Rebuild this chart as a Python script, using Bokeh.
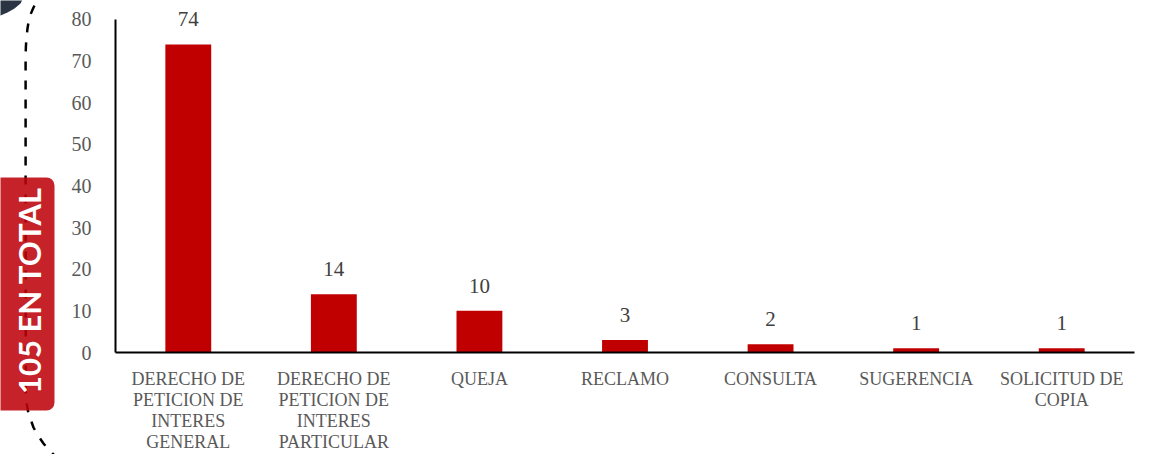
from bokeh.plotting import figure
from bokeh.layouts import row
from bokeh.models import (ColumnDataSource, FactorRange, Range1d, FixedTicker,
                          Label, BoxAnnotation)
from bokeh.core.properties import value
from bokeh.embed import file_html
from bokeh.resources import INLINE

# ---- data ----
categories = ["DERECHO DE\nPETICION DE\nINTERES\nGENERAL",
              "DERECHO DE\nPETICION DE\nINTERES\nPARTICULAR",
              "QUEJA", "RECLAMO", "CONSULTA", "SUGERENCIA",
              "SOLICITUD DE\nCOPIA"]
counts = [74, 14, 10, 3, 2, 1, 1]
y_ticks = [0, 10, 20, 30, 40, 50, 60, 70, 80]
total_label = "105 EN TOTAL"

SERIF = "Liberation Serif"
W, H = 1153, 454
LEFT_W = 60
F_LEFT, F_RIGHT, F_TOP, F_BOTTOM = 115, 1134, 19, 353   # axis extents (page px)
Y_MAX = 80
# frame extends to the top of the canvas so value labels above the bars are not clipped
Y_TOP = Y_MAX * F_BOTTOM / (F_BOTTOM - F_TOP)

def no_align(fig):
    try:
        fig.frame_align = False
    except AttributeError:
        pass

# ---- decorative left strip (page coordinates: x right, y down) ----
d = figure(width=LEFT_W, height=H, x_range=Range1d(0, LEFT_W), y_range=Range1d(H, 0),
           output_backend="svg", toolbar_location=None,
           x_axis_location=None, y_axis_location=None,
           min_border=0, min_border_left=0, min_border_right=0,
           min_border_top=0, min_border_bottom=0)
no_align(d)
d.outline_line_color = None
d.xgrid.grid_line_color = None
d.ygrid.grid_line_color = None

corner_x = [-5, 24, 20, 14, 7, 0, -5]
corner_y = [-5, -5, 3, 8, 12, 15, 18]
d.patch(corner_x, corner_y, fill_color="#2b3442", line_color=None)

arc_x = [42, 37, 33, 30, 28.3, 27, 26, 25.4, 25.1, 25.1, 25.3, 26.5,
         28, 30.5, 33, 37.5, 43, 48, 53, 62]
arc_y = [-12, 0, 7, 14, 20, 28, 37, 46, 55, 200, 395, 405,
         413, 420, 427, 435, 443, 449, 454, 464]
d.line(arc_x, arc_y, line_color="black", line_width=2.5, line_dash="9 10")

d.add_layout(BoxAnnotation(left=-12, right=54, top=177, bottom=410,
                           fill_color="#bd040b", fill_alpha=0.88,
                           line_color=None, border_radius=8))
d.add_layout(Label(x=28, y=290, text=total_label, angle=90, angle_units="deg",
                   text_align="center", text_baseline="middle",
                   text_font="Lato", text_font_style="bold",
                   text_font_size="31px", text_color="white"))

# ---- main chart ----
src = ColumnDataSource(dict(cat=categories, val=counts,
                            txt=[str(v) for v in counts]))

p = figure(x_range=FactorRange(*categories, range_padding=0),
           y_range=Range1d(0, Y_TOP),
           width=W - LEFT_W, height=H,
           output_backend="svg", toolbar_location=None,
           min_border_left=F_LEFT - LEFT_W, min_border_right=W - F_RIGHT,
           min_border_top=0, min_border_bottom=H - F_BOTTOM)
no_align(p)
p.outline_line_color = None
p.background_fill_color = "white"
p.border_fill_color = "white"
p.xgrid.grid_line_color = None
p.ygrid.grid_line_color = None

p.vbar(x="cat", top="val", width=0.315, source=src,
       fill_color="#c00000", line_color=None)
p.text(x="cat", y="val", text="txt", source=src,
       text_align="center", text_baseline="alphabetic", y_offset=-25,
       text_font=value(SERIF), text_font_size="21px", text_color="#404040")

for ax in (p.xaxis[0], p.yaxis[0]):
    ax.axis_line_color = "black"
    ax.axis_line_width = 2
    ax.major_tick_line_color = None
    ax.minor_tick_line_color = None
    ax.major_label_text_font = SERIF
    ax.major_label_text_color = "#595959"

p.yaxis.ticker = FixedTicker(ticks=y_ticks)
p.yaxis.bounds = (0, Y_MAX)
p.yaxis.major_label_text_font_size = "20px"
p.yaxis.major_label_standoff = 18

p.xaxis.major_label_text_font_size = "18px"
p.xaxis.major_label_text_line_height = 1.055
p.xaxis.major_label_standoff = 10

open("out.html", "w").write(file_html(row(d, p), INLINE))
